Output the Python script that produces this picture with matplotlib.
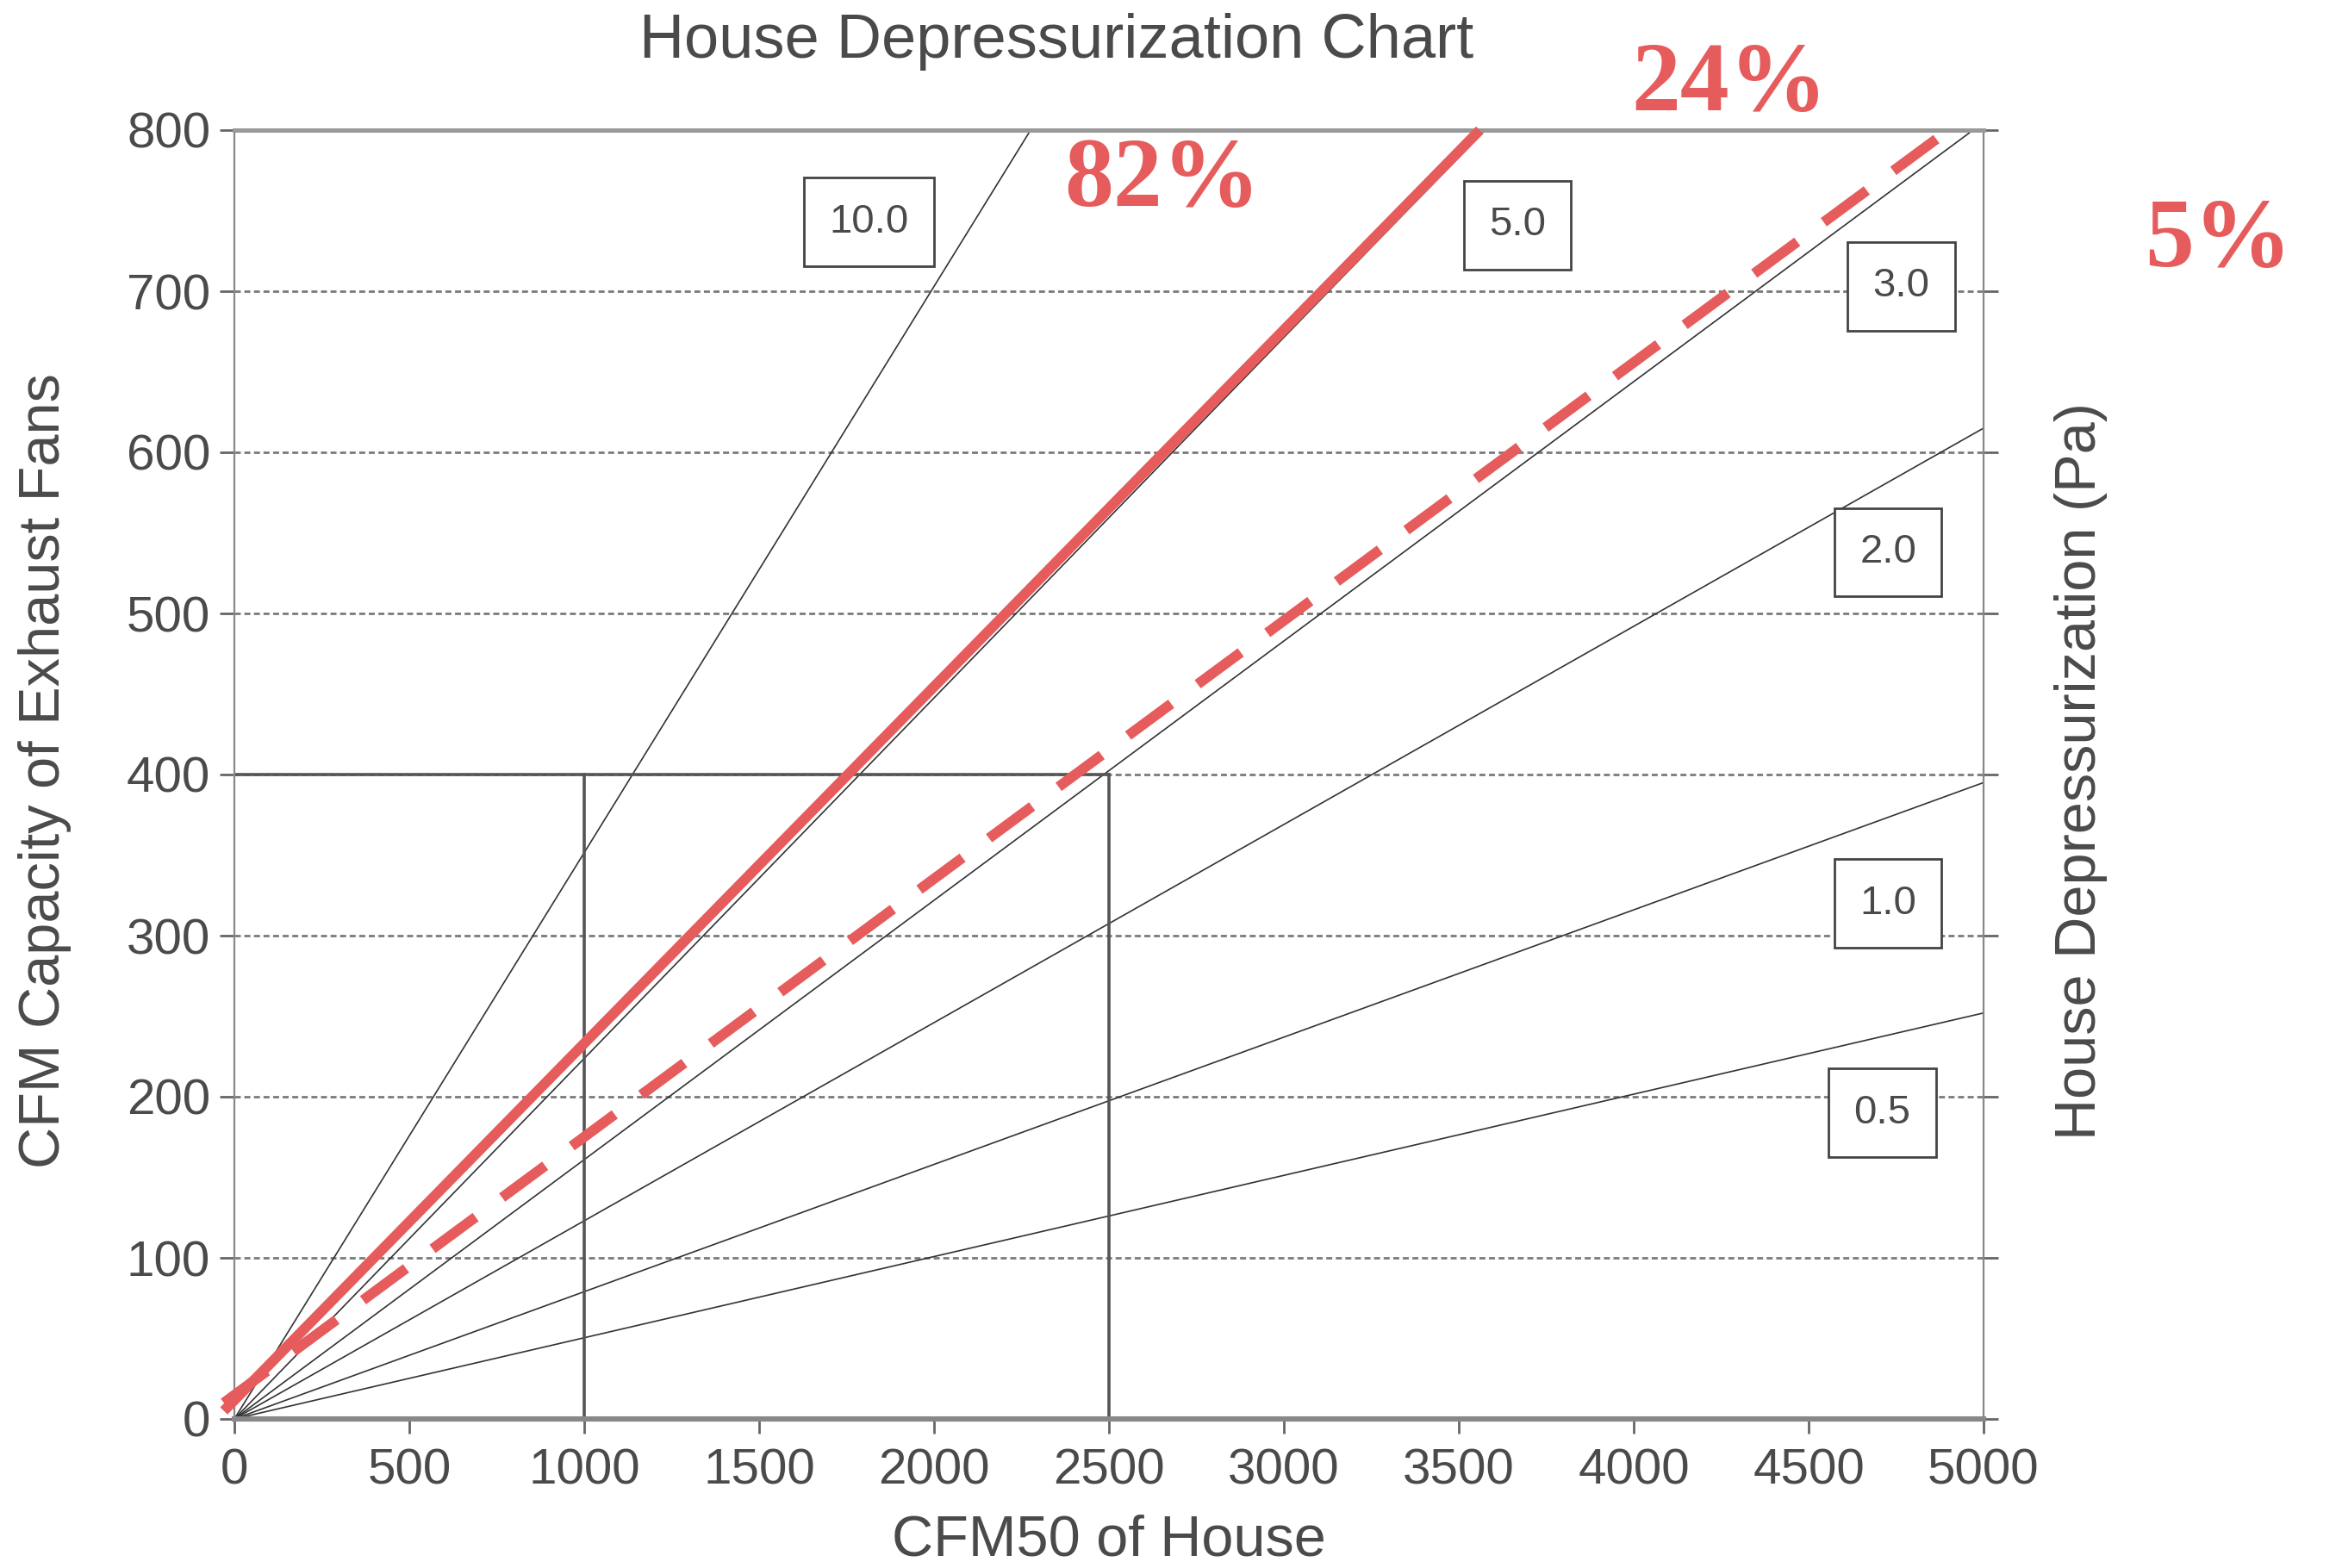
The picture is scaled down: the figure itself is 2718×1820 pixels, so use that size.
import numpy as np
import matplotlib
matplotlib.use('Agg')
import matplotlib.pyplot as plt

# Depressurization lines (Pa) and where each one leaves the plotting area
pressures = ['0.5', '1.0', '2.0', '3.0', '5.0', '10.0']
end_x = [5000, 5000, 5000, 4970, 3575, 2276]
end_y = [252, 395, 615, 800, 800, 800]
label_x = [4710, 4727, 4727, 4765, 3668, 1815]
label_y = [190, 320, 538, 703, 741, 743]

# worked example: 400 CFM of fans, houses at 1000 and 2500 CFM50
example_cfm = 400
example_houses = [1000, 2500]

# red marker lines added on top of the chart
solid_x = [-30, 3560]
solid_y = [5, 800]
dashed_x = [-30, 4900]
dashed_y = [10, 800]
percent_labels = ['82%', '24%', '5%']

x_ticks = np.arange(0, 5001, 500)
y_ticks = np.arange(0, 801, 100)

W, H = 2718, 1820
fig = plt.figure(figsize=(W / 200, H / 200), dpi=200)
ax = fig.add_axes([272 / W, 1 - 1647 / H, (2302 - 272) / W, (1647 - 151) / H])

gray_txt = '#4a4a4a'
red = '#E65C5C'
sans = 'Liberation Sans'

# dotted horizontal grid
for y in y_ticks[1:-1]:
    ax.axhline(y, color='#7a7a7a', lw=1.0, ls=(0, (2.5, 1.5)), zorder=1)

# pressure lines from the origin
for p, xe, ye in zip(pressures, end_x, end_y):
    ax.plot([0, xe], [0, ye], color='#333333', lw=0.6, zorder=2)

# example guide lines
ax.plot([0, example_houses[-1]], [example_cfm, example_cfm], color='#555555', lw=1.3, zorder=2)
for xh in example_houses:
    ax.plot([xh, xh], [0, example_cfm], color='#555555', lw=1.3, zorder=2)

# boxed pressure labels
for p, lx, ly in zip(pressures, label_x, label_y):
    ax.text(lx, ly, p, ha='center', va='center', fontsize=17, color='#4a4a4a', family=sans,
            bbox=dict(boxstyle='square,pad=0.62', fc='white', ec='#444444', lw=1.0), zorder=4)

# red overlays
ax.plot(solid_x, solid_y, color=red, lw=4.3, solid_capstyle='butt', zorder=5, clip_on=False)
ax.plot(dashed_x, dashed_y, color=red, lw=4.3, dashes=(5.2, 3.2), zorder=5, clip_on=False)

ax.set_xlim(0, 5000)
ax.set_ylim(0, 800)
ax.set_xticks(x_ticks)
ax.set_yticks(y_ticks)
ax.set_xticklabels([str(v) for v in x_ticks], family=sans, fontsize=21, color=gray_txt)
ax.set_yticklabels([str(v) for v in y_ticks], family=sans, fontsize=21, color=gray_txt)
ax.tick_params(axis='x', length=6, width=1.0, color='#666666', pad=6)
ax.tick_params(axis='y', length=6, width=1.0, color='#666666', pad=4, right=True)

for side in ['left', 'right']:
    ax.spines[side].set_color('#888888')
    ax.spines[side].set_linewidth(0.8)
ax.spines['top'].set_color('#999999')
ax.spines['top'].set_linewidth(1.8)
ax.spines['bottom'].set_color('#888888')
ax.spines['bottom'].set_linewidth(2.2)

fig.text(1226 / W, 1 - 49 / H, 'House Depressurization Chart', ha='center', va='center',
         fontsize=26, color=gray_txt, family=sans)
fig.text(1287 / W, 1 - 1789 / H, 'CFM50 of House', ha='center', va='center',
         fontsize=24, color=gray_txt, family=sans)
fig.text(52 / W, 1 - 895 / H, 'CFM Capacity of Exhaust Fans', ha='center', va='center',
         rotation=90, fontsize=24, color=gray_txt, family=sans)
fig.text(2415 / W, 1 - 895 / H, 'House Depressurization (Pa)', ha='center', va='center',
         rotation=90, fontsize=24, color=gray_txt, family=sans)

# percentage annotations
pct_pos = [(1349, 211), (2007, 100), (2574, 281)]
for txt, (px, py) in zip(percent_labels, pct_pos):
    fig.text(px / W, 1 - py / H, txt, ha='center', va='center', fontsize=41,
             color=red, family='Liberation Serif', weight='bold')

plt.savefig('out.png', dpi=200, facecolor='white')
plt.close()
